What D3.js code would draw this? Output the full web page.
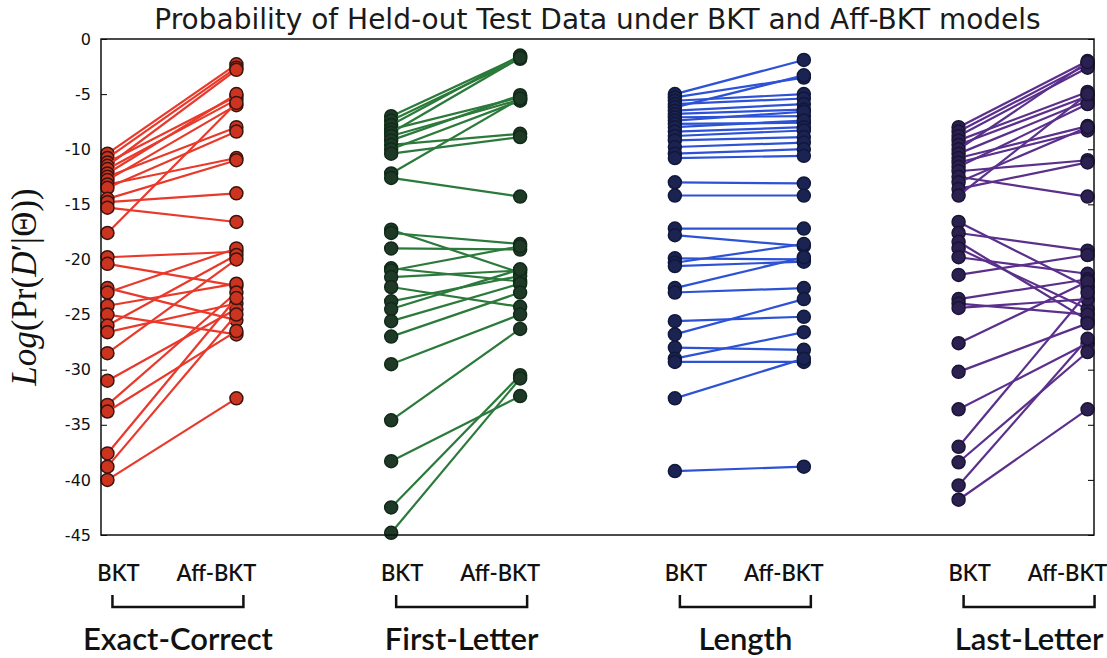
<!DOCTYPE html>
<html>
<head>
<meta charset="utf-8">
<script src="https://cdn.jsdelivr.net/npm/d3@7"></script>
<style>
  body { margin: 0; background: #fff; }
</style>
</head>
<body>
<div id="chart"></div>
<script>
// Model groups shown along the x axis
const groups = ["Exact-Correct", "First-Letter", "Length", "Last-Letter"];
const models = ["BKT", "Aff-BKT"];
const yTicks = [0, -5, -10, -15, -20, -25, -30, -35, -40, -45];

// Paired log-probabilities [BKT, Aff-BKT], one pair per held-out set
const exactCorrect = [
  [-10.4, -2.3], [-10.8, -2.6], [-11.2, -5.2], [-11.5, -2.8], [-11.8, -5.5],
  [-12.2, -5.0], [-12.5, -8.0], [-12.8, -6.0], [-13.2, -10.8], [-13.5, -8.4],
  [-14.5, -11.0], [-14.8, -14.0], [-15.3, -16.6], [-17.6, -5.8], [-19.8, -19.3],
  [-20.4, -22.4], [-22.6, -25.5], [-23.0, -19.0], [-24.2, -22.2], [-25.0, -26.8],
  [-26.0, -19.6], [-26.6, -24.0], [-28.5, -20.0], [-31.0, -24.5], [-33.2, -23.0],
  [-33.8, -26.5], [-37.6, -23.5], [-38.8, -25.0], [-40.0, -32.6]
];
const firstLetter = [
  [-7.0, -1.6], [-7.4, -1.8], [-7.8, -1.5], [-8.2, -5.3], [-8.5, -1.7],
  [-8.8, -5.5], [-9.2, -5.1], [-9.6, -8.6], [-10.0, -5.6], [-10.4, -8.9],
  [-12.2, -5.4], [-12.6, -14.3], [-17.3, -21.2], [-17.6, -18.6], [-19.0, -19.1],
  [-20.8, -22.0], [-21.0, -18.8], [-21.6, -21.0], [-22.5, -24.3], [-23.8, -21.5],
  [-24.5, -20.9], [-25.6, -22.2], [-27.0, -23.0], [-29.5, -25.0], [-34.6, -26.3],
  [-38.3, -32.4], [-42.5, -30.5], [-44.8, -30.8]
];
const lengthData = [
  [-5.0, -1.9], [-5.3, -3.5], [-5.6, -5.0], [-5.9, -5.4], [-6.2, -3.3],
  [-6.5, -5.9], [-6.8, -6.4], [-7.1, -7.0], [-7.4, -6.6], [-7.7, -7.6],
  [-8.0, -7.4], [-8.4, -8.0], [-8.8, -8.3], [-9.2, -8.9], [-9.8, -9.4],
  [-10.4, -10.0], [-10.8, -10.6], [-13.0, -13.1], [-14.2, -14.2], [-17.2, -17.2],
  [-17.8, -18.8], [-19.9, -20.0], [-20.3, -18.6], [-20.6, -20.2], [-22.6, -19.8],
  [-23.0, -22.6], [-25.6, -25.2], [-26.8, -23.6], [-28.0, -28.2], [-29.0, -26.6],
  [-29.3, -29.3], [-32.6, -29.0], [-39.2, -38.8]
];
const lastLetter = [
  [-8.0, -2.0], [-8.4, -2.3], [-8.8, -2.6], [-9.2, -4.8], [-9.6, -5.2],
  [-10.0, -2.1], [-10.4, -5.6], [-10.8, -7.9], [-11.2, -8.3], [-11.6, -5.9],
  [-12.0, -11.0], [-12.5, -14.3], [-13.0, -8.0], [-13.6, -11.2], [-14.2, -5.0],
  [-16.6, -22.5], [-17.6, -19.2], [-18.4, -25.5], [-19.0, -24.5], [-19.8, -21.3],
  [-21.4, -19.6], [-23.6, -21.8], [-24.0, -25.0], [-24.4, -23.6], [-27.6, -22.0],
  [-30.2, -25.8], [-33.6, -27.6], [-37.0, -23.0], [-38.4, -28.4], [-40.5, -27.2],
  [-41.8, -33.6]
];
const groupData = [exactCorrect, firstLetter, lengthData, lastLetter];

// x position of the BKT column of each group (Aff-BKT sits one unit right)
const groupPos = [1, 3.2, 5.4, 7.6];

const lineColors = ["#e8392b", "#2c7a3b", "#2d52d6", "#5b2f8c"];
const dotColors = ["#cc3420", "#1e3a27", "#1b2352", "#2b2050"];
const edgeColors = ["#3a1510", "#12291a", "#11183a", "#1a1436"];

const margin = { top: 39, right: 13, bottom: 123, left: 101 },
      width = 1107 - margin.left - margin.right,
      height = 658 - margin.top - margin.bottom;

const svg = d3.select("#chart")
    .append("svg")
    .attr("width", 1107)
    .attr("height", 658);

const g = svg.append("g")
    .attr("transform", `translate(${margin.left},${margin.top})`);

const x = d3.scaleLinear()
    .domain([0.95, 8.65])
    .range([0, width]);

const y = d3.scaleLinear()
    .domain([-45, 0])
    .range([height, 0]);

// Left axis with inward ticks
const yAxis = g.append("g")
    .call(d3.axisLeft(y).tickValues(yTicks).tickSize(-6).tickPadding(10)
        .tickFormat(d => String(d)));
yAxis.select(".domain").remove();
yAxis.selectAll("text")
    .style("font-family", "DejaVu Sans")
    .style("font-size", "16px")
    .attr("fill", "#111");

// Right axis ticks only
const yRight = g.append("g")
    .attr("transform", `translate(${width},0)`)
    .call(d3.axisRight(y).tickValues(yTicks).tickSize(-6).tickFormat(""));
yRight.select(".domain").remove();

// Paired lines with markers
groupData.forEach((data, gi) => {
    const gg = g.append("g");
    data.forEach(pair => {
        const pts = pair.map((v, k) => [x(groupPos[gi] + k), y(v)]);
        gg.append("line")
            .attr("x1", pts[0][0]).attr("y1", pts[0][1])
            .attr("x2", pts[1][0]).attr("y2", pts[1][1])
            .attr("stroke", lineColors[gi])
            .attr("stroke-width", 2.2);
        gg.selectAll(null)
            .data(pts)
            .enter()
            .append("circle")
            .attr("cx", d => d[0])
            .attr("cy", d => d[1])
            .attr("r", 6.5)
            .attr("fill", dotColors[gi])
            .attr("stroke", edgeColors[gi])
            .attr("stroke-width", 1.5);
    });
});

// Frame
g.append("rect")
    .attr("width", width)
    .attr("height", height)
    .attr("fill", "none")
    .attr("stroke", "#111")
    .attr("stroke-width", 1.5);

// Model labels, brackets and group names below the plot
groups.forEach((name, gi) => {
    const xb = x(groupPos[gi]), xa = x(groupPos[gi] + 1);
    const x0 = xb + 5, x1 = xa + 7;
    const lab = g.append("g").attr("transform", `translate(0,${height})`);
    lab.append("text")
        .attr("x", xb + 11)
        .attr("y", 46)
        .attr("text-anchor", "middle")
        .style("font-family", "Lato")
        .style("font-size", "22px")
        .style("font-weight", "600")
        .attr("fill", "#111")
        .text(models[0]);
    lab.append("text")
        .attr("x", xa - 20)
        .attr("y", 46)
        .attr("text-anchor", "middle")
        .style("font-family", "Lato")
        .style("font-size", "22px")
        .style("font-weight", "600")
        .attr("fill", "#111")
        .text(models[1]);
    lab.append("path")
        .attr("d", `M${x0},${60}V${72}H${x1}V${60}`)
        .attr("fill", "none")
        .attr("stroke", "#111")
        .attr("stroke-width", 2.5);
    lab.append("text")
        .attr("x", (x0 + x1) / 2)
        .attr("y", 115)
        .attr("text-anchor", "middle")
        .style("font-family", "Lato")
        .style("font-size", "31px")
        .style("font-weight", "600")
        .attr("fill", "#111")
        .text(name);
});

// y-axis label
const yl = svg.append("text")
    .attr("transform", `translate(24,${margin.top + height / 2}) rotate(-90)`)
    .attr("text-anchor", "middle")
    .attr("dy", "0.35em")
    .style("font-family", "Liberation Serif")
    .style("font-size", "35px")
    .attr("fill", "#111");
yl.append("tspan").style("font-style", "italic").text("Log");
yl.append("tspan").text("(Pr(");
yl.append("tspan").style("font-style", "italic").text("D");
yl.append("tspan").text("′|Θ))");

// Title
svg.append("text")
    .attr("x", margin.left + width / 2)
    .attr("y", 29)
    .attr("text-anchor", "middle")
    .style("font-family", "DejaVu Sans")
    .style("font-size", "28px")
    .attr("fill", "#1a1a1a")
    .text("Probability of Held-out Test Data under BKT and Aff-BKT models");
</script>
</body>
</html>
